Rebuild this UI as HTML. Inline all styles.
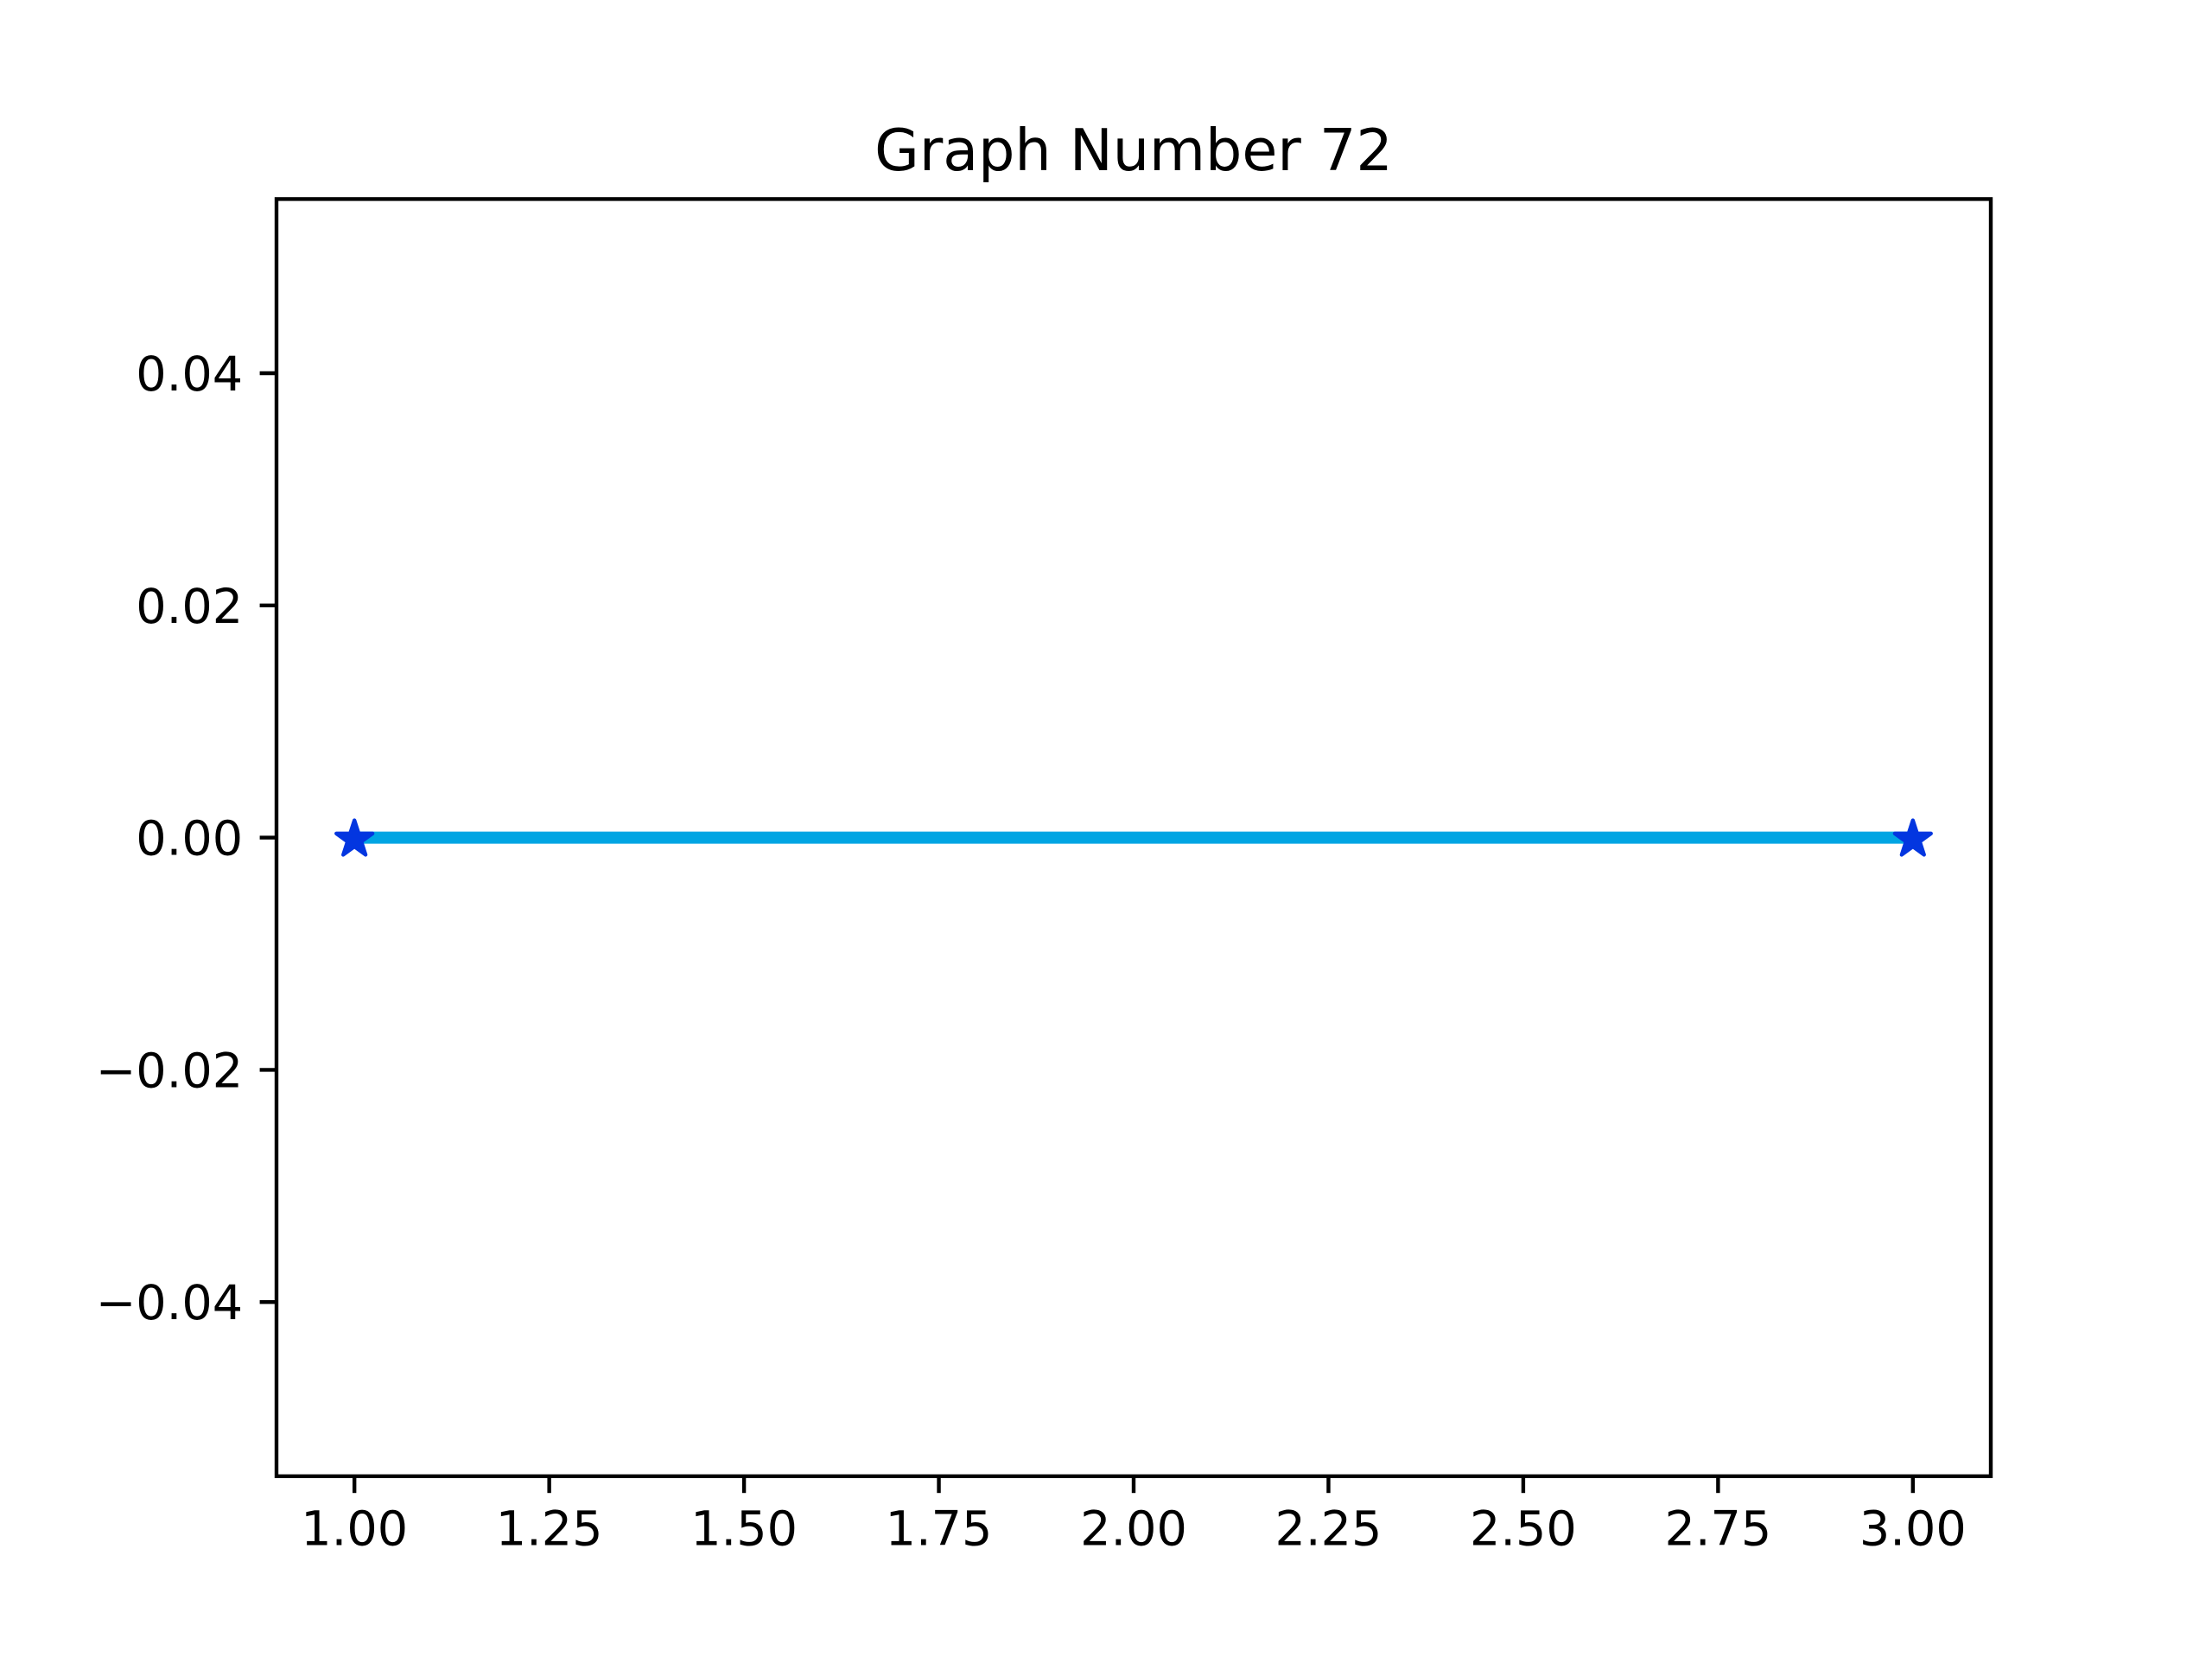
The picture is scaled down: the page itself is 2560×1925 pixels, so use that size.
<!DOCTYPE html>
<html><head><meta charset="utf-8"><style>
html,body{margin:0;padding:0;background:#fff;}
svg text{font-family:"DejaVu Sans","Liberation Sans",sans-serif;fill:#000;}
</style></head><body>
<svg id="chart" width="2560" height="1920" viewBox="0 0 2560 1920" xmlns="http://www.w3.org/2000/svg">
<rect width="2560" height="1920" fill="#fff"/>
<text x="1312" y="197" font-size="66.7" text-anchor="middle">Graph Number 72</text>
<g id="xticks"></g>
<g id="yticks"></g>
<g id="series"></g>
<rect x="320" y="230.4" width="1984" height="1478.4" fill="none" stroke="#000" stroke-width="4.4"/>
</svg>
<script>
const xValues = [1, 3];
const yValues = [0, 0];
const xTicks = [1.0, 1.25, 1.5, 1.75, 2.0, 2.25, 2.5, 2.75, 3.0];
const xTickLabels = ["1.00","1.25","1.50","1.75","2.00","2.25","2.50","2.75","3.00"];
const yTicks = [-0.04, -0.02, 0, 0.02, 0.04];
const yTickLabels = ["\u22120.04","\u22120.02","0.00","0.02","0.04"];
const xMin = 0.9, xMax = 3.1, yMin = -0.055, yMax = 0.055;
const L = 320, R = 2304, T = 230.4, B = 1708.8;
const NS = "http://www.w3.org/2000/svg";
function sx(v){ return L + (v - xMin) / (xMax - xMin) * (R - L); }
function sy(v){ return B - (v - yMin) / (yMax - yMin) * (B - T); }
function mk(tag, attrs, parent){ const e = document.createElementNS(NS, tag); for (const k in attrs) e.setAttribute(k, attrs[k]); parent.appendChild(e); return e; }
const gx = document.getElementById('xticks');
xTicks.forEach((t, i) => {
  const x = sx(t);
  const ln = mk('line', {x1:x, x2:x, y1:B, y2:B+19.4, stroke:'#000', 'stroke-width':4.4}, gx);
  
  
  const tx = mk('text', {x:x, y:B+38.9+41, 'font-size':55.6, 'text-anchor':'middle'}, gx);
  tx.textContent = xTickLabels[i];
  
  
});
const gy = document.getElementById('yticks');
yTicks.forEach((t, i) => {
  const y = sy(t);
  const ln = mk('line', {x1:L-19.4, x2:L, y1:y, y2:y, stroke:'#000', 'stroke-width':4.4}, gy);
  
  
  const tx = mk('text', {x:L-38.9, y:y+20, 'font-size':55.6, 'text-anchor':'end'}, gy);
  tx.textContent = yTickLabels[i];
  
  
});
const gs = document.getElementById('series');
const pts = xValues.map((v, i) => sx(v) + ',' + sy(yValues[i])).join(' ');
const pl = mk('polyline', {points:pts, fill:'none', stroke:'#00a5e3', 'stroke-width':14, 'stroke-linecap':'butt'}, gs);


function starPts(cx, cy, r){
  const ri = r * 0.381966, p = [];
  for (let k = 0; k < 10; k++){
    const a = -Math.PI/2 + k * Math.PI/5;
    const rr = k % 2 ? ri : r;
    p.push((cx + rr*Math.cos(a)).toFixed(2) + ',' + (cy + rr*Math.sin(a)).toFixed(2));
  }
  return p.join(' ');
}
xValues.forEach((v, i) => {
  const s = mk('polygon', {points:starPts(sx(v), sy(yValues[i]) + 2, 22), fill:'#0336e0', stroke:'#0336e0', 'stroke-width':4.4, 'stroke-linejoin':'round'}, gs);
  
  
});
</script>
</body></html>
